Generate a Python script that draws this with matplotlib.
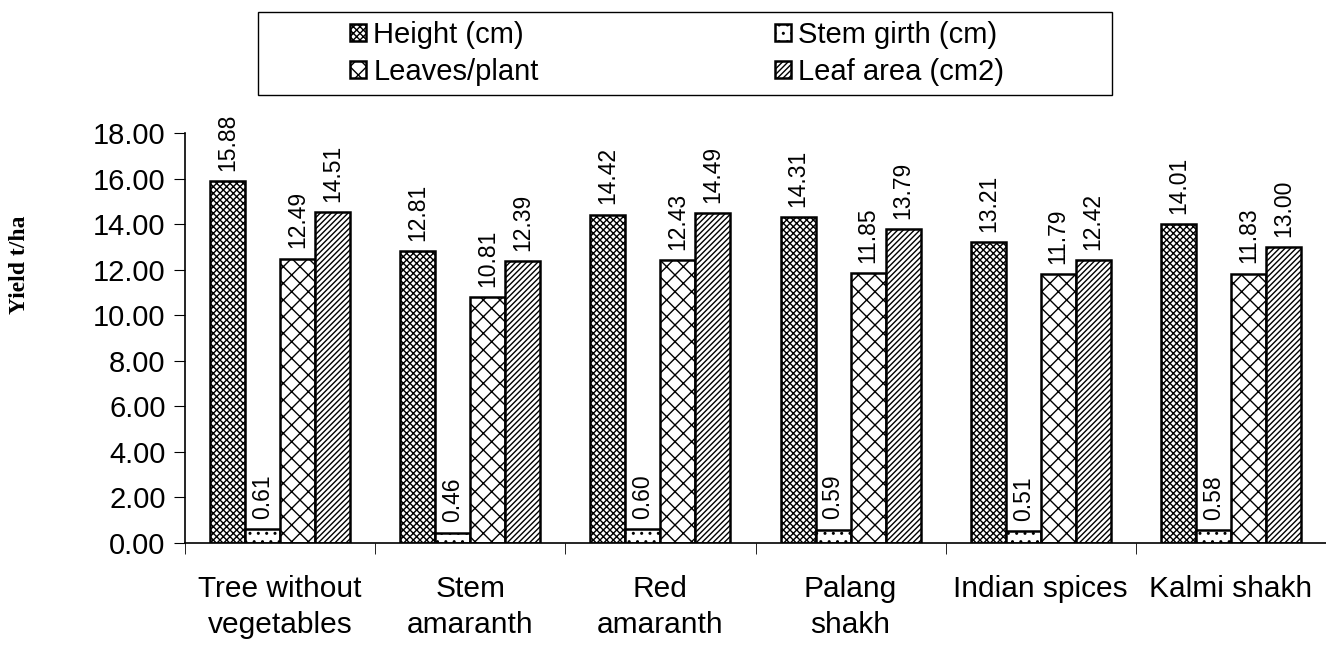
import matplotlib.pyplot as plt
import matplotlib.patches as mpatches
import numpy as np

categories = ["Tree without\nvegetables", "Stem\namaranth", "Red\namaranth",
              "Palang\nshakh", "Indian spices", "Kalmi shakh"]
series = ["Height (cm)", "Stem girth (cm)", "Leaves/plant", "Leaf area (cm2)"]
height = [15.88, 12.81, 14.42, 14.31, 13.21, 14.01]
girth = [0.61, 0.46, 0.60, 0.59, 0.51, 0.58]
leaves = [12.49, 10.81, 12.43, 11.85, 11.79, 11.83]
area = [14.51, 12.39, 14.49, 13.79, 12.42, 13.00]
hatches = ["xxxxx", "..", "xx", "//////"]

W, H = 1326, 645
plt.rcParams['hatch.linewidth'] = 1.0
fig = plt.figure(figsize=(W / 100, H / 100), dpi=100)
ax = fig.add_axes([185/W, 102/H, 1141/W, 410/H])

x = np.arange(len(categories))
w = 0.184
handles = []
for i, (vals, lab, h) in enumerate(zip([height, girth, leaves, area], series, hatches)):
    pos = x + (i - 1.5) * w
    bars = ax.bar(pos, vals, w, color="white", edgecolor="black", linewidth=1.8,
                  hatch=h, label=lab)
    handles.append(bars)
    for xp, v in zip(pos, vals):
        ax.text(xp, v + 0.45, f"{v:.2f}", rotation=90, ha="center", va="bottom",
                fontsize=16.5, family="Liberation Sans")

ax.set_xlim(-0.5, len(categories) - 0.5)
ax.set_ylim(0, 18)
ax.set_yticks(np.arange(0, 18.1, 2))
ax.set_yticklabels([f"{v:.2f}" for v in np.arange(0, 18.1, 2)],
                   fontsize=21, family="Liberation Sans")
ax.set_xticks(x)
ax.set_xticklabels(categories, fontsize=21.5, family="Liberation Sans",
                   linespacing=1.35)
ax.set_xticks(np.arange(-0.5, len(categories)), minor=True)
ax.tick_params(axis="x", which="major", length=0, pad=23)
ax.tick_params(axis="x", which="minor", length=8, direction="out")
ax.tick_params(axis="y", length=8, direction="out", pad=6)
for s in ["top", "right"]:
    ax.spines[s].set_visible(False)
ax.spines["left"].set_linewidth(1.2)
ax.spines["bottom"].set_linewidth(1.2)

fig.text(20/W, 1 - 265/H, "Yield t/ha", rotation=90, ha="center", va="center",
         fontsize=17, fontweight="bold", family="Liberation Serif")

# legend box
fig.patches.append(mpatches.Rectangle((258/W, 1 - 95/H), 854/W, 83/H,
                                      transform=fig.transFigure, fill=False,
                                      edgecolor="black", linewidth=1.0))
order = [0, 2, 1, 3]
leg = fig.legend([handles[i] for i in order], [series[i] for i in order],
                 loc="upper left", bbox_to_anchor=(350/W, 1 - 21/H), ncol=2,
                 prop={"family": "Liberation Sans", "size": 21}, frameon=False,
                 handlelength=0.55, handleheight=0.55, handletextpad=0.25,
                 columnspacing=8.1, borderpad=0, labelspacing=0.3,
                 borderaxespad=0)

fig.savefig("out.png", dpi=100)
